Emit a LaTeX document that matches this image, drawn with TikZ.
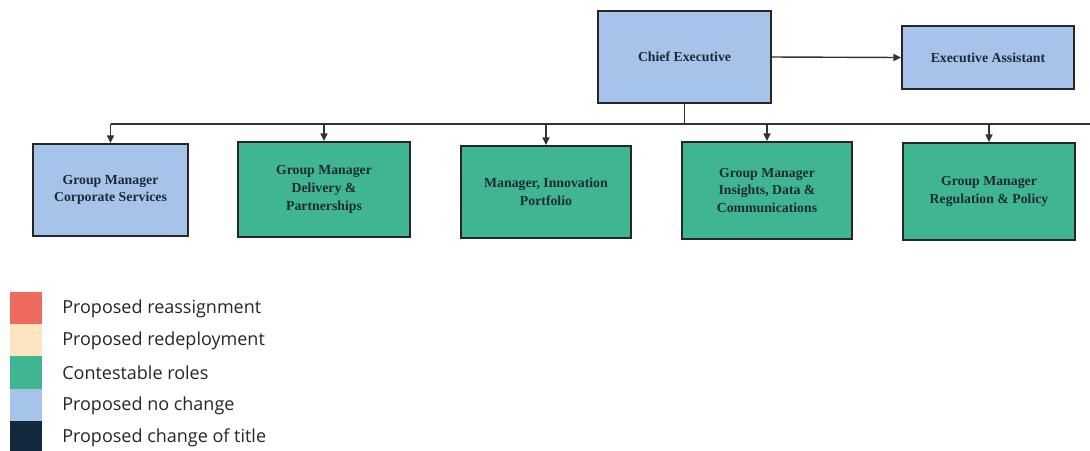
\documentclass[tikz,border=0pt]{standalone}
\usepackage{fontspec}
\setmainfont{Liberation Serif}
\newfontfamily\legendfont{Open Sans}
\usetikzlibrary{arrows.meta}
\definecolor{noChange}{HTML}{A6C3EA}
\definecolor{contest}{HTML}{3FB592}
\definecolor{reassign}{HTML}{EC6A5E}
\definecolor{redeploy}{HTML}{FCE5C0}
\definecolor{retitle}{HTML}{13293D}
\definecolor{boxText}{HTML}{1E2A36}
\definecolor{legText}{HTML}{262626}
\tikzset{
  role/.style={draw=black!85, line width=1.3pt, align=center, inner sep=2pt,
    font=\fontsize{9.8}{12.6}\selectfont\bfseries, text=boxText},
  bluerole/.style={role, fill=noChange},
  greenrole/.style={role, fill=contest},
  link/.style={draw=black!80, line width=1pt},
  arr/.style={link, -{Triangle[length=5.5pt,width=5pt]}},
  swatch/.style={inner sep=0pt, outer sep=0pt},
  legtext/.style={anchor=west, inner sep=0pt, text=legText,
    font=\legendfont\fontsize{12.8}{14}\selectfont},
}
\begin{document}
\begin{tikzpicture}[x=0.025cm, y=-0.025cm]
\useasboundingbox (0,0) rectangle (1090,450);
\fill[white] (0,0) rectangle (1090,450);

% top level
\node[bluerole, minimum width=173*0.025cm, minimum height=92*0.025cm] (ce) at (684.5,57) {Chief Executive};
\node[bluerole, minimum width=172*0.025cm, minimum height=63*0.025cm] (ea) at (988,57.5) {Executive Assistant};
\draw[arr] (ce.east) -- (ea.west);

% second level
\node[bluerole, minimum width=155*0.025cm, minimum height=92*0.025cm] (cs) at (110.5,190) {Group Manager\\Corporate Services};
\node[greenrole, minimum width=172*0.025cm, minimum height=95*0.025cm] (dp) at (324,189.5) {Group Manager\\Delivery \&\\Partnerships};
\node[greenrole, minimum width=170*0.025cm, minimum height=92*0.025cm] (ip) at (546,192) {Manager, Innovation\\Portfolio};
\node[greenrole, minimum width=170*0.025cm, minimum height=97*0.025cm] (id) at (767,190.5) {Group Manager\\Insights, Data \&\\Communications};
\node[greenrole, minimum width=172*0.025cm, minimum height=97*0.025cm] (rp) at (989,191.5) {Group Manager\\Regulation \& Policy};

% reporting bus
\coordinate (busL) at (cs.north |- 0,124);
\coordinate (busR) at (1090,124);
\coordinate (busC) at (ce.south |- 0,124);
\draw[link] (ce.south) -- (busC);
\draw[link] (busL) -- (busR);
\foreach \n in {cs,dp,ip,id,rp}
  \draw[arr] (\n.north |- busC) -- (\n.north);

% legend
\node[swatch, fill=reassign, minimum width=32*0.025cm, minimum height=32*0.025cm] (k1) at (26,308) {};
\node[swatch, fill=redeploy, minimum width=32*0.025cm, minimum height=32*0.025cm] (k2) at (26,340) {};
\node[swatch, fill=contest,  minimum width=32*0.025cm, minimum height=33*0.025cm] (k3) at (26,372.5) {};
\node[swatch, fill=noChange, minimum width=32*0.025cm, minimum height=32*0.025cm] (k4) at (26,405) {};
\node[swatch, fill=retitle,  minimum width=32*0.025cm, minimum height=31*0.025cm] (k5) at (26,436.5) {};
\node[legtext] (t1) at (62,309) {Proposed reassignment};
\node[legtext] (t2) at (62,341) {Proposed redeployment};
\node[legtext] (t3) at (62,373) {Contestable roles};
\node[legtext] (t4) at (62,406) {Proposed no change};
\node[legtext] (t5) at (62,438) {Proposed change of title};
\end{tikzpicture}
\end{document}
